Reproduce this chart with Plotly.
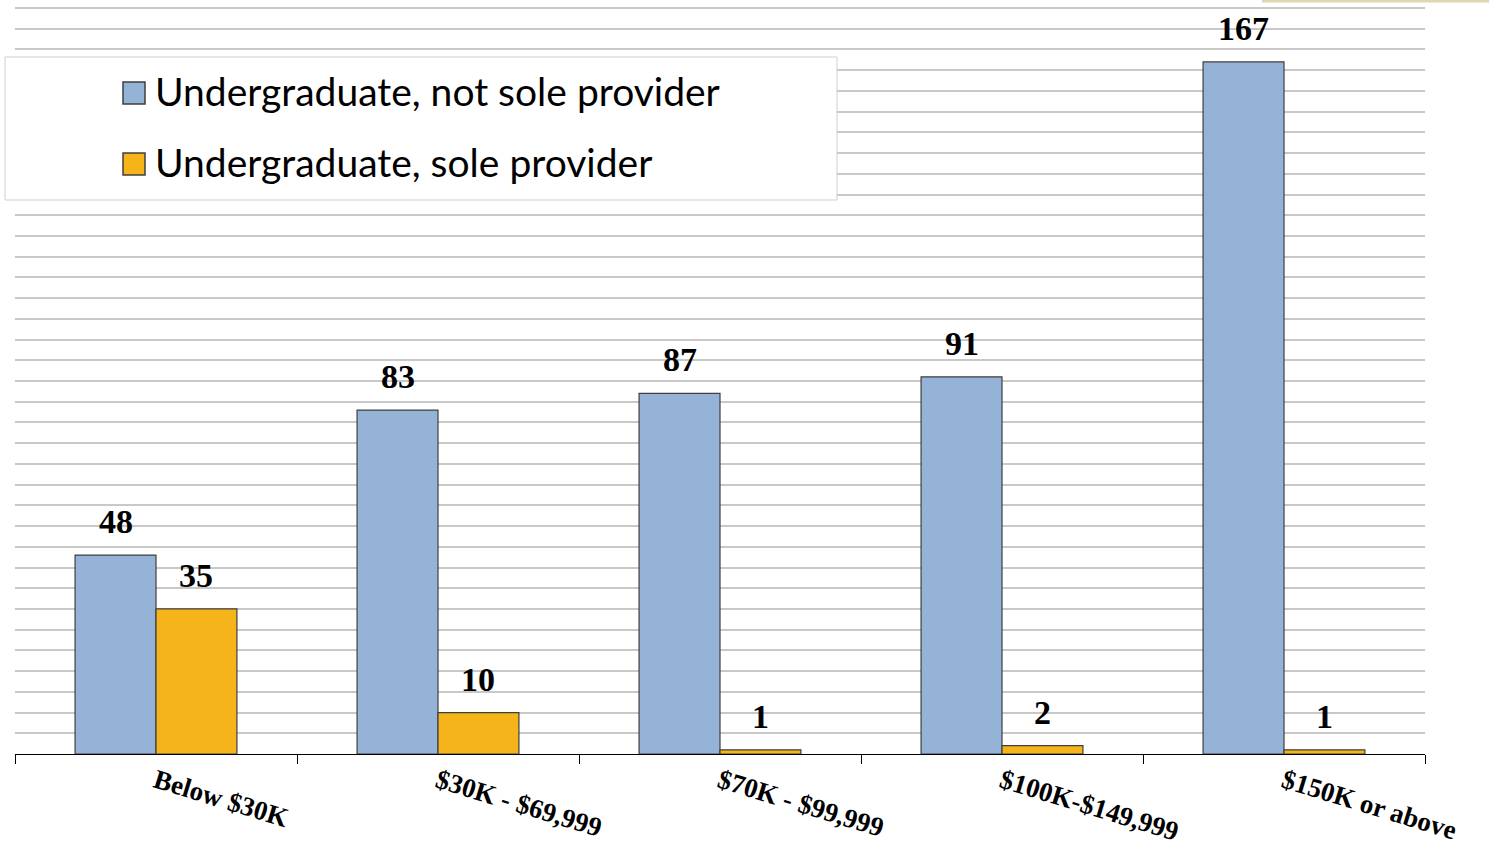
import plotly.graph_objects as go

categories = ["Below $30K", "$30K - $69,999", "$70K - $99,999", "$100K-$149,999", "$150K or above"]
not_sole = [48, 83, 87, 91, 167]
sole = [35, 10, 1, 2, 1]
series_names = ["Undergraduate, not sole provider", "Undergraduate, sole provider"]
colors = ["#95B3D7", "#F5B51A"]
edge = "#3F3F3F"
serif = "Liberation Serif, Times New Roman, serif"

W, H = 1489, 849
L, R, T, B = 15, 64, 7, 95
pw, ph = W - L - R, H - T - B
BARGAP = 0.426
bar_px = pw / len(categories) * (1 - BARGAP) / 2


def px_x(p):
    return (p - L) / pw


def px_y(p):
    return (H - B - p) / ph


fig = go.Figure()
for name, vals, col in zip(series_names, [not_sole, sole], colors):
    fig.add_trace(go.Bar(
        x=categories, y=vals, name=name,
        marker=dict(color=col, line=dict(color=edge, width=1.2)),
        showlegend=False,
    ))

# value labels above each bar
annotations = []
for k, vals in enumerate([not_sole, sole]):
    shift = (-0.5 + k) * bar_px
    for c, v in zip(categories, vals):
        annotations.append(dict(
            x=c, y=v, xref="x", yref="y", text=str(v), showarrow=False,
            xanchor="center", yanchor="bottom", xshift=shift, yshift=13,
            font=dict(family=serif, size=34, color="black", weight="bold"),
        ))

# legend frame, swatches and labels
shapes = [
    dict(type="rect", xref="paper", yref="paper",
         x0=px_x(5), x1=px_x(837), y0=px_y(200), y1=px_y(57),
         line=dict(color="#CFCFCF", width=1), fillcolor="white", layer="above"),
    dict(type="line", xref="paper", yref="paper",
         x0=px_x(1262), x1=px_x(1489), y0=px_y(1), y1=px_y(1),
         line=dict(color="#DCD8B0", width=3)),
]
for i, (name, col) in enumerate(zip(series_names, colors)):
    cy = 93 + 71 * i
    shapes.append(dict(
        type="rect", xref="paper", yref="paper",
        x0=px_x(123), x1=px_x(145), y0=px_y(cy + 11), y1=px_y(cy - 11),
        fillcolor=col, line=dict(color=edge, width=1.5), layer="above",
    ))
    annotations.append(dict(
        x=px_x(153), y=px_y(cy - 2), xref="paper", yref="paper", text=name,
        showarrow=False, xanchor="left", yanchor="middle",
        font=dict(family="Lato, sans-serif", size=39, color="black"),
    ))

fig.update_layout(
    width=W, height=H,
    margin=dict(l=L, r=R, t=T, b=B, autoexpand=False),
    paper_bgcolor="white", plot_bgcolor="white",
    barmode="group", bargap=BARGAP, bargroupgap=0,
    showlegend=False,
    shapes=shapes,
    annotations=annotations,
    xaxis=dict(
        automargin=False,
        showline=True, linecolor="black", linewidth=1,
        ticks="outside", ticklen=9, tickcolor="black", tickson="boundaries",
        tickangle=17,
        tickfont=dict(family=serif, size=27, color="black", weight="bold"),
        showgrid=False,
    ),
    yaxis=dict(
        automargin=False,
        range=[0, 180.25], tick0=0, dtick=5, showticklabels=False, zeroline=False,
        showgrid=True, gridcolor="#C8C8C8", gridwidth=2, showline=False,
    ),
)

fig.write_html("out.html")
